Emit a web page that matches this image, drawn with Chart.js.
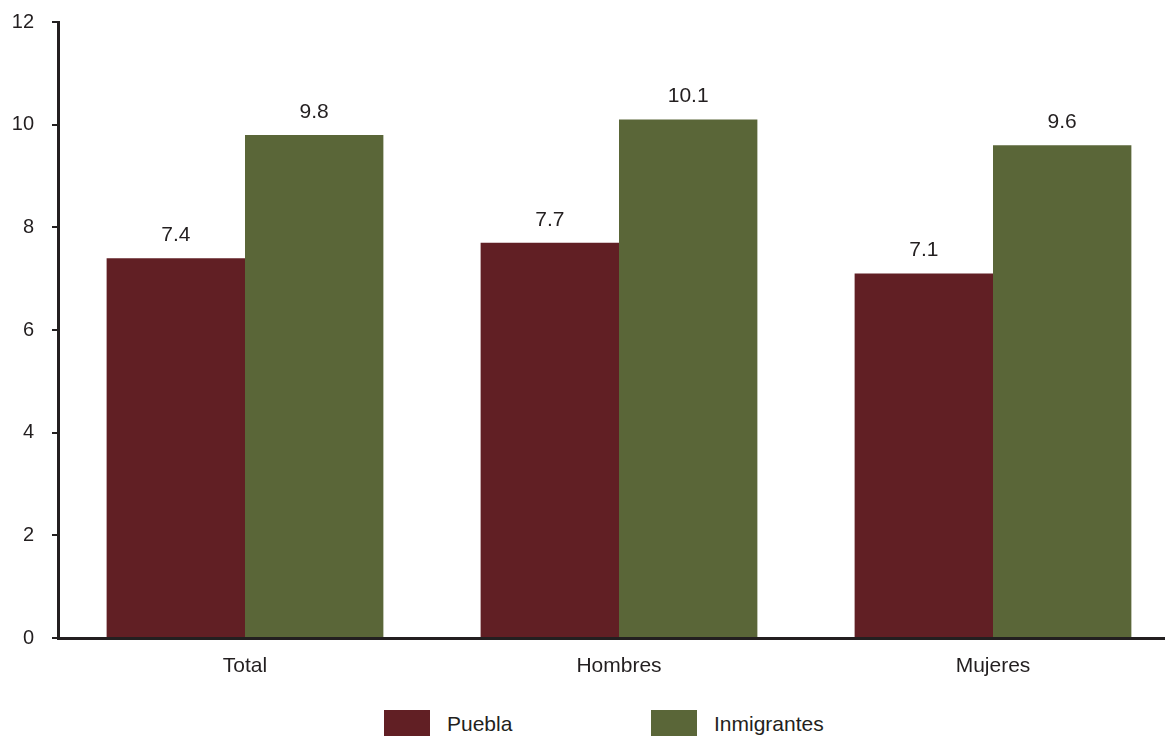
<!DOCTYPE html>
<html>
<head>
<meta charset="utf-8">
<script src="https://cdn.jsdelivr.net/npm/chart.js@4"></script>
<style>
    html, body { margin: 0; padding: 0; background: #fff; overflow: hidden; }
    body { width: 1165px; height: 736px; position: relative; font-family: "Liberation Sans", Arial, sans-serif; }
    .chart-box { position: absolute; left: 0; top: 0; width: 1180px; height: 700px; }
    .legend { position: absolute; left: 0; top: 710px; width: 1165px; height: 40px; }
    .legend-item { position: absolute; top: 0; height: 26px; }
    .legend-swatch { position: absolute; left: 0; top: 0; width: 46px; height: 26px; }
    .legend-text { position: absolute; left: 63px; top: 0; line-height: 28px; font-size: 21px; color: #231f20; white-space: nowrap; }
</style>
</head>
<body>
<div class="chart-box"><canvas id="chart"></canvas></div>
<div class="legend" id="legend"></div>
<script>
    const categories = ['Total', 'Hombres', 'Mujeres'];
    const pueblaValues = [7.4, 7.7, 7.1];
    const inmigrantesValues = [9.8, 10.1, 9.6];
    const seriesNames = ['Puebla', 'Inmigrantes'];
    const seriesColors = ['#611f24', '#5a6638'];
    const yTicks = [0, 2, 4, 6, 8, 10, 12];

    const textColor = '#231f20';
    const fontFamily = '"Liberation Sans", Arial, sans-serif';

    // draws the value above every bar
    const valueLabels = {
        id: 'valueLabels',
        afterDatasetsDraw(chart) {
            const ctx = chart.ctx;
            ctx.save();
            ctx.font = '21px ' + fontFamily;
            ctx.fillStyle = textColor;
            ctx.textAlign = 'center';
            ctx.textBaseline = 'middle';
            chart.data.datasets.forEach((ds, i) => {
                chart.getDatasetMeta(i).data.forEach((bar, j) => {
                    ctx.fillText(ds.data[j].toFixed(1), bar.x, bar.y - 23);
                });
            });
            ctx.restore();
        }
    };

    const chart = new Chart(document.getElementById('chart'), {
        type: 'bar',
        data: {
            labels: categories,
            datasets: [
                { label: seriesNames[0], data: pueblaValues, backgroundColor: seriesColors[0] },
                { label: seriesNames[1], data: inmigrantesValues, backgroundColor: seriesColors[1] }
            ]
        },
        options: {
            responsive: true,
            maintainAspectRatio: false,
            animation: false,
            layout: { padding: { top: 22, left: 0, right: 0, bottom: 0 } },
            datasets: {
                bar: { categoryPercentage: 0.74, barPercentage: 1.0, borderWidth: 0 }
            },
            plugins: {
                legend: { display: false },
                tooltip: { enabled: false }
            },
            scales: {
                x: {
                    grid: { display: false, drawTicks: false },
                    border: { display: true, color: textColor, width: 3 },
                    ticks: { color: textColor, font: { family: fontFamily, size: 21 }, padding: 16 },
                    afterFit(scale) { scale.height = 62; }
                },
                y: {
                    min: 0,
                    max: 12,
                    afterBuildTicks(scale) { scale.ticks = yTicks.map(v => ({ value: v })); },
                    grid: { drawOnChartArea: false, drawTicks: true, tickLength: 6, color: textColor, lineWidth: 2 },
                    border: { display: true, color: textColor, width: 3 },
                    ticks: { color: textColor, font: { family: fontFamily, size: 20 }, padding: 18 },
                    afterFit(scale) {
                        scale.width = 58;
                        scale.paddingTop = 0;
                        scale.paddingBottom = 0;
                    }
                }
            }
        },
        plugins: [valueLabels]
    });

    // html legend built from the chart's own legend items
    const legendDiv = document.getElementById('legend');
    const legendLeft = [384, 651];
    chart.options.plugins.legend.labels.generateLabels(chart).forEach((item, i) => {
        const el = document.createElement('div');
        el.className = 'legend-item';
        el.style.left = legendLeft[i] + 'px';
        el.innerHTML = `<div class="legend-swatch" style="background:${item.fillStyle}"></div>
                        <div class="legend-text">${item.text}</div>`;
        legendDiv.appendChild(el);
    });
</script>
</body>
</html>
